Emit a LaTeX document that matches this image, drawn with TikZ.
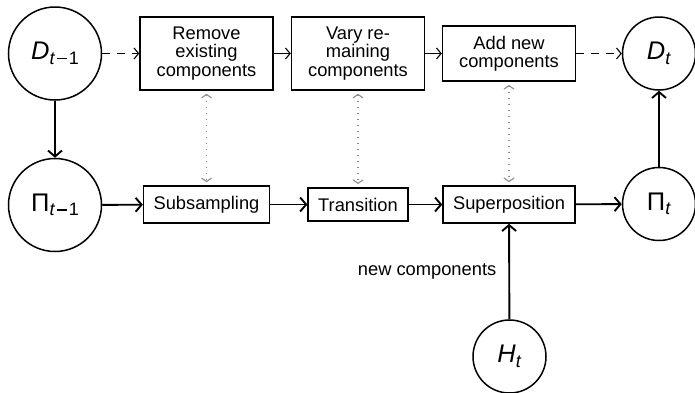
\documentclass[tikz,border=0pt]{standalone}
\usepackage{fontspec}
\setmainfont{Liberation Sans}
\usetikzlibrary{arrows.meta}
\newcommand{\lbsub}[1]{\raisebox{-4.5pt}{\fontsize{18}{18}\selectfont #1}}
\newcommand{\mneg}{\kern1.8pt\rule[5.3pt]{10pt}{1.3pt}\kern1.8pt}
\begin{document}
\begin{tikzpicture}[x=1pt,y=-1pt,
  every node/.style={font=\fontsize{18.3}{18.3}\selectfont},
  state/.style={circle,draw,line width=1.5pt,inner sep=0pt,font=\fontsize{25.5}{25.5}\selectfont},
  bigstate/.style={state,minimum size=93pt},
  smallstate/.style={state,minimum size=73pt},
  procbox/.style={draw,line width=1.5pt,inner sep=10pt},
  topbox/.style={procbox,align=center,minimum width=133pt},
  flow/.style={line width=1.9pt,-{Straight Barb[length=6pt,width=14pt,line width=1.9pt]}},
  thinflow/.style={line width=1.1pt,-{Straight Barb[length=4.5pt,width=11pt,line width=1.1pt]}},
  dashflow/.style={thinflow,dash pattern=on 8pt off 7pt},
  link/.style={line width=1.1pt,color=black!45,dash pattern=on 1.2pt off 4.8pt,
    {Straight Barb[length=3.5pt,width=10pt]}-{Straight Barb[length=3.5pt,width=10pt]},shorten <=3pt,shorten >=3pt}
]
\useasboundingbox (0,0) rectangle (695,392);

\node[bigstate] (Dm) at (55,53.5) {\textit{D}\lbsub{\textit{t}\mneg 1}};
\node[bigstate] (Pm) at (55,205) {Π\lbsub{\textit{t}\mneg 1}};
\node[smallstate] (Dt) at (659,53.5) {\textit{D}\lbsub{\textit{t}}};
\node[smallstate] (Pt) at (659,204) {Π\lbsub{\textit{t}}};
\node[smallstate] (Ht) at (509.5,356.5) {\textit{H}\lbsub{\textit{t}}};

\node[topbox] (Rem) at (206.5,53.5) {Remove\\existing\\components};
\node[topbox] (Var) at (358,53.5) {Vary re-\\maining\\components};
\node[topbox] (Add) at (509,53.5) {Add new\\components};

\node[procbox] (Sub) at (206.5,204.5) {Subsampling};
\node[procbox] (Tra) at (358,204.5) {Transition};
\node[procbox] (Sup) at (509,204.5) {Superposition};

\draw[dashflow] (Dm) -- (Rem);
\draw[thinflow] (Rem) -- (Var);
\draw[thinflow] (Var) -- (Add);
\draw[dashflow] (Add) -- (Dt);

\draw[flow] (Dm) -- (Pm);
\draw[flow] (Pm) -- (Sub);
\draw[flow] (Sub) -- (Tra);
\draw[flow] (Tra) -- (Sup);
\draw[flow] (Sup) -- (Pt);
\draw[flow] (Pt) -- (Dt);
\draw[flow] (Ht) -- node[midway,left=12pt,inner sep=0pt] (nc) {new components} (Sup);

\draw[link] (Rem) -- (Sub);
\draw[link] (Var) -- (Tra);
\draw[link] (Add) -- (Sup);
\end{tikzpicture}
\end{document}
